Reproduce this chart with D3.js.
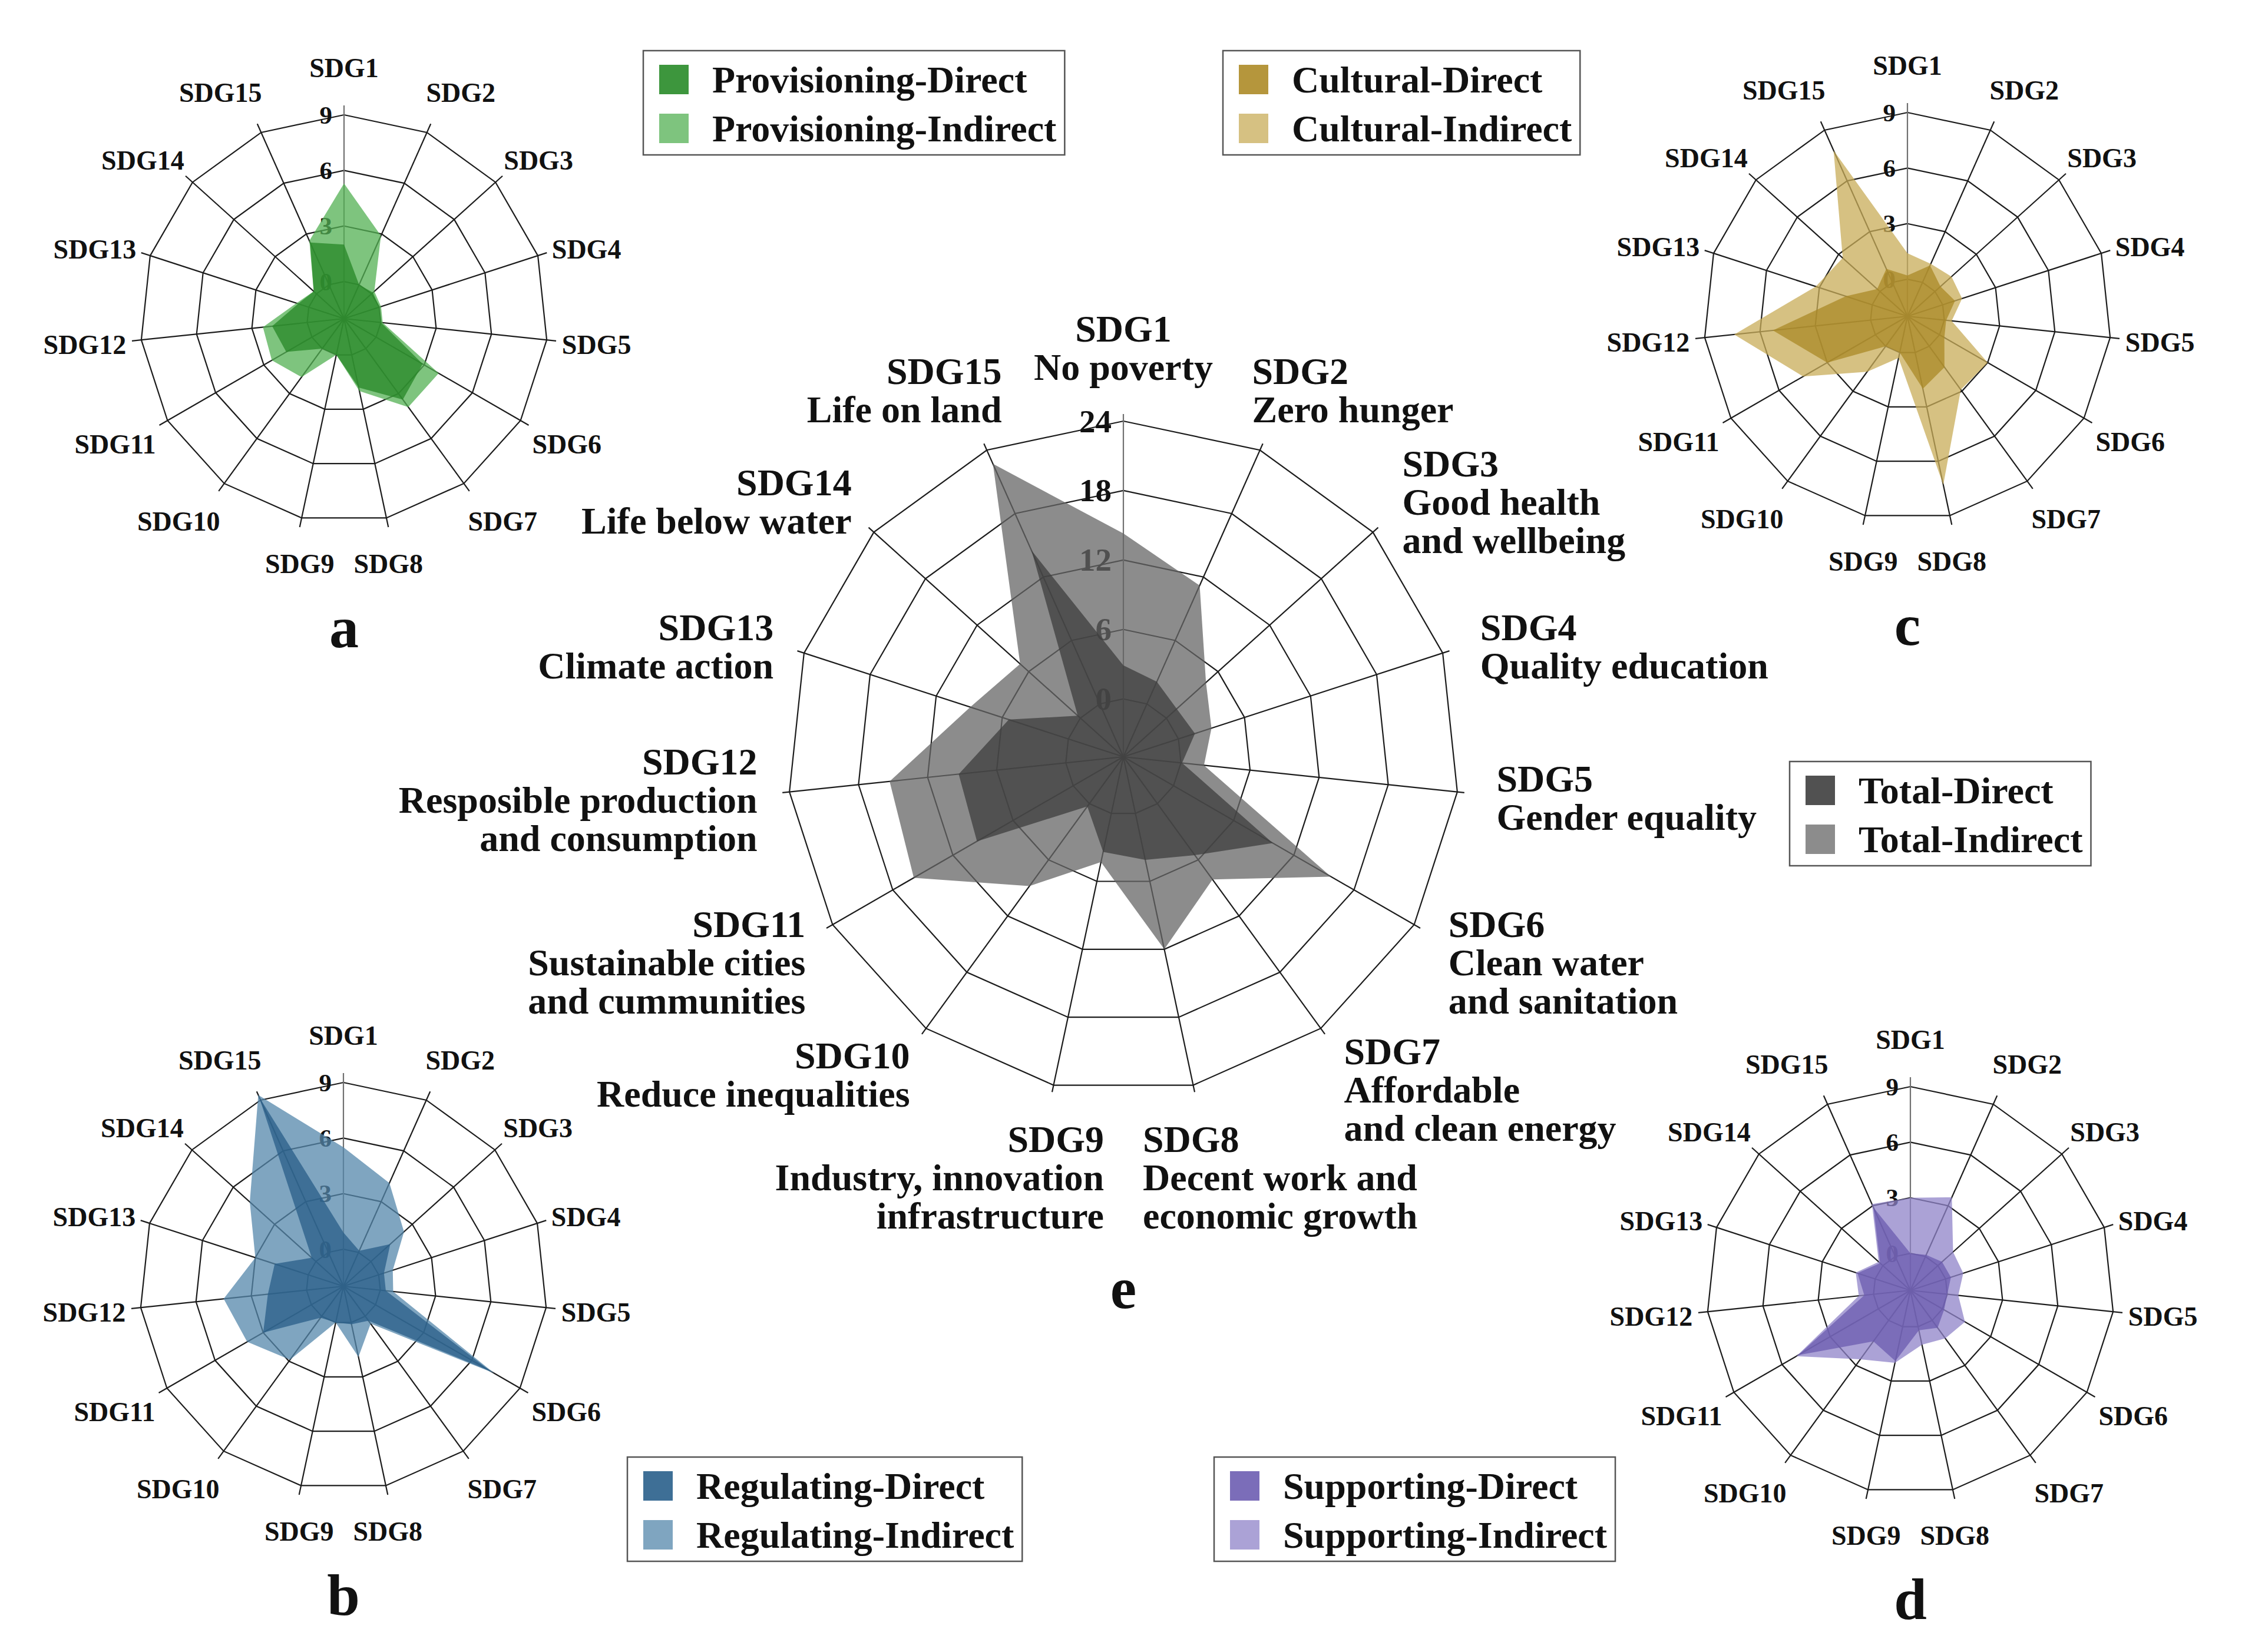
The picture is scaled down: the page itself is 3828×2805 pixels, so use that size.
<!DOCTYPE html>
<html>
<head>
<meta charset="utf-8">
<script src="https://cdn.jsdelivr.net/npm/d3@7"></script>
<style>
  body { margin: 0; background: #fff; }
  svg text { font-family: "Liberation Serif", "Times New Roman", serif; font-weight: bold; fill: #111; }
</style>
</head>
<body>
<div id="chart"></div>
<script>
// axis names
var sdgNames = ["SDG1","SDG2","SDG3","SDG4","SDG5","SDG6","SDG7","SDG8","SDG9","SDG10","SDG11","SDG12","SDG13","SDG14","SDG15"];
var sdgLong = [
  ["SDG1","No poverty"],
  ["SDG2","Zero hunger"],
  ["SDG3","Good health","and wellbeing"],
  ["SDG4","Quality education"],
  ["SDG5","Gender equality"],
  ["SDG6","Clean water","and sanitation"],
  ["SDG7","Affordable","and clean energy"],
  ["SDG8","Decent work and","economic growth"],
  ["SDG9","Industry, innovation","infrastructure"],
  ["SDG10","Reduce inequalities"],
  ["SDG11","Sustainable cities","and cummunities"],
  ["SDG12","Resposible production","and consumption"],
  ["SDG13","Climate action"],
  ["SDG14","Life below water"],
  ["SDG15","Life on land"]
];

// values per SDG1..SDG15
var provisioningDirect   = [2.0, 0.0, 0.1, 0.0, 0.0, 2.9, 3.4, 1.8, 0.0, 0.0, 1.6, 1.9, 0.6, 0.2, 2.5];
var provisioningIndirect = [5.3, 2.9, 0.2, 0.1, 0.1, 3.9, 3.9, 2.0, 0.0, 1.9, 2.5, 2.4, 0.7, 0.2, 2.6];
var regulatingDirect     = [0.9, 0.1, 1.4, 0.3, 0.3, 7.2, 0.3, 0.1, 0.0, 0.1, 3.0, 2.1, 1.9, 0.3, 9.2];
var regulatingIndirect   = [5.5, 4.1, 2.4, 0.8, 0.7, 7.4, 0.5, 1.9, 0.0, 2.9, 4.0, 4.5, 3.0, 4.8, 9.3];
var culturalDirect       = [0.2, 1.0, 0.4, 0.7, 0.1, 0.3, 1.4, 2.0, 0.0, 0.0, 3.0, 5.3, 1.5, 0.2, 0.8];
var culturalIndirect     = [1.4, 1.1, 1.2, 1.1, 0.4, 3.0, 2.9, 7.3, 0.3, 1.7, 4.5, 7.4, 3.2, 2.7, 7.8];
var supportingDirect     = [0.0, 0.1, 0.3, 0.3, 0.0, 0.1, 0.5, 0.2, 1.9, 1.4, 5.0, 0.5, 1.0, 0.2, 2.9];
var supportingIndirect   = [3.0, 3.5, 1.1, 1.0, 0.6, 1.4, 1.2, 1.0, 2.0, 2.6, 5.1, 0.8, 1.1, 0.3, 3.1];
var totalDirect          = [2.9, 2.1, 1.2, 1.5, 0.1, 9.9, 5.5, 4.1, 3.4, 0.3, 9.6, 9.3, 5.4, 0.3, 14.5];
var totalIndirect        = [14.3, 11.2, 4.6, 3.0, 2.0, 15.7, 8.1, 12.0, 4.3, 8.8, 15.9, 15.3, 8.9, 7.0, 22.7];

var smallTicks = [0, 3, 6, 9];
var totalTicks = [0, 6, 12, 18, 24];

var width = 3828, height = 2805;
var step = 2 * Math.PI / 15;
var fillAlpha = 0.75;

var svg = d3.select("#chart").append("svg")
    .attr("width", width)
    .attr("height", height);
svg.append("rect").attr("width", width).attr("height", height).attr("fill", "#fff");

// colour that gives `target` when laid with alpha a over `under`
function layerColour(target, under, a) {
  var t = d3.rgb(target), u = d3.rgb(under);
  function ch(tv, uv) { return Math.max(0, Math.min(255, (tv - uv * (1 - a)) / a)); }
  return d3.rgb(ch(t.r, u.r), ch(t.g, u.g), ch(t.b, u.b)).formatHex();
}

function drawRadar(o) {
  var g = svg.append("g").attr("transform", "translate(" + o.cx + "," + o.cy + ")");
  var r = d3.scaleLinear().domain(o.domain).range([0, o.R]);
  var n = o.labels.length;
  var radial = d3.lineRadial()
      .angle(function(d, i) { return i * step; })
      .radius(function(d) { return r(d); })
      .curve(d3.curveLinearClosed);

  // grid rings
  g.selectAll(".ring").data(o.ticks).enter().append("path")
      .attr("class", "ring")
      .attr("d", function(t) { return radial(d3.range(n).map(function() { return t; })); })
      .attr("fill", "none")
      .attr("stroke", "#1c1c1c")
      .attr("stroke-width", 2.2);

  // spokes
  var endR = o.R + o.ext;
  g.selectAll(".spoke").data(d3.range(n)).enter().append("line")
      .attr("class", "spoke")
      .attr("x1", 0).attr("y1", 0)
      .attr("x2", function(i) { return endR * Math.sin(i * step); })
      .attr("y2", function(i) { return -endR * Math.cos(i * step); })
      .attr("stroke", function(i) { return i === 0 ? "#707070" : "#1c1c1c"; })
      .attr("stroke-width", 2.2);

  // tick labels on SDG1 axis
  g.selectAll(".tick").data(o.ticks).enter().append("text")
      .attr("class", "tick")
      .attr("x", -o.tickGap)
      .attr("y", function(t) { return -r(t); })
      .attr("text-anchor", "end")
      .attr("dominant-baseline", "central")
      .style("font-size", o.tickSize + "px")
      .text(function(t) { return t; });

  // areas: indirect underneath, direct on top
  var fillI = layerColour(o.colI, "#ffffff", fillAlpha);
  var fillD = layerColour(o.colD, o.colI, fillAlpha);
  g.append("path").datum(o.indirect)
      .attr("d", radial)
      .attr("fill", fillI)
      .attr("fill-opacity", fillAlpha);
  g.append("path").datum(o.direct)
      .attr("d", radial)
      .attr("fill", fillD)
      .attr("fill-opacity", fillAlpha);

  // axis labels
  o.labels.forEach(function(lines, i) {
    if (typeof lines === "string") lines = [lines];
    var a = i * step, s = Math.sin(a), c = Math.cos(a);
    var ex = endR * s, ey = -endR * c;
    var H = lines.length * o.lineH;
    var Htop = Math.min(H, 2 * o.lineH);
    var bottomPair = o.big && Math.abs(s) < 0.3 && c < 0;
    var midY;
    if (c > 0) midY = ey - (Htop / 2) * Math.pow(c, o.topPow) - o.gapTop * Math.pow(c, o.topPow + 1);
    else midY = ey - c * (H / 2 + o.gapY) + (bottomPair ? o.bottomDrop : 0);
    var anchor, x;
    var lift = Math.max(0, c - 0.7) / 0.3 * o.topPull;
    if (Math.abs(s) < 0.15) { anchor = "middle"; x = ex; }
    else if (bottomPair) { anchor = s > 0 ? "start" : "end"; x = s > 0 ? o.bottomGap : -o.bottomGap; }
    else if (!o.big && Math.abs(s) < 0.3) { anchor = "middle"; x = ex; }
    else if (s > 0) { anchor = "start"; x = ex + o.gapX * s - o.gapX0 - lift; }
    else { anchor = "end"; x = ex - (o.gapX * -s - o.gapX0 - o.leftIn) + lift; }
    var t = g.append("text")
        .attr("text-anchor", anchor)
        .style("font-size", o.fontSize + "px");
    lines.forEach(function(line, k) {
      t.append("tspan")
          .attr("x", x)
          .attr("y", midY - H / 2 + o.lineH * (k + 0.5))
          .attr("dominant-baseline", "central")
          .text(line);
    });
  });

  // panel letter
  g.append("text")
      .attr("x", 0)
      .attr("y", o.letterY)
      .attr("text-anchor", "middle")
      .style("font-size", o.letterSize + "px")
      .text(o.letter);
}

function smallRadar(cx, cy, direct, indirect, colD, colI, letter) {
  drawRadar({
    cx: cx, cy: cy, R: 346, ext: 16, domain: [-2, 9], ticks: smallTicks,
    direct: direct, indirect: indirect, colD: colD, colI: colI,
    labels: sdgNames, fontSize: 46, lineH: 46, gapY: 41, gapTop: 41, topPow: 1.6,
    gapX: 30, gapX0: 20, leftIn: 0, topPull: 0,
    tickSize: 43, tickGap: 20, big: false,
    letter: letter, letterY: 558, letterSize: 100
  });
}

var col = {
  provD: "#3d963d", provI: "#7ec47e",
  cultD: "#b5963c", cultI: "#d6c182",
  reguD: "#3e6f96", reguI: "#7fa5c0",
  suppD: "#7b6db9", suppI: "#aba2d6",
  totD:  "#515151", totI:  "#8c8c8c"
};

smallRadar(584, 541, provisioningDirect, provisioningIndirect, col.provD, col.provI, "a");
smallRadar(583, 2184, regulatingDirect, regulatingIndirect, col.reguD, col.reguI, "b");
smallRadar(3238, 537, culturalDirect, culturalIndirect, col.cultD, col.cultI, "c");
smallRadar(3243, 2191, supportingDirect, supportingIndirect, col.suppD, col.suppI, "d");

drawRadar({
  cx: 1907, cy: 1285, R: 570, ext: 12, domain: [-5, 24], ticks: totalTicks,
  direct: totalDirect, indirect: totalIndirect, colD: col.totD, colI: col.totI,
  labels: sdgLong, fontSize: 64, lineH: 65, gapY: 20, gapTop: 47, topPow: 2,
  gapX: 55, gapX0: 0, leftIn: 12, topPull: 57, bottomGap: 33, bottomDrop: 30,
  tickSize: 55, tickGap: 20, big: true,
  letter: "e", letterY: 936, letterSize: 100
});

// legends
function legend(x, y, items) {
  var g = svg.append("g").attr("transform", "translate(" + x + "," + y + ")");
  var box = g.append("rect").attr("height", 177)
      .attr("fill", "#fff").attr("stroke", "#555").attr("stroke-width", 2.5);
  var maxW = 0;
  items.forEach(function(it, k) {
    var yy = 49 + k * 83;
    g.append("rect").attr("x", 27).attr("y", yy - 25).attr("width", 50).attr("height", 50)
        .attr("fill", it[1]);
    var t = g.append("text").attr("x", 117).attr("y", yy)
        .attr("dominant-baseline", "central")
        .style("font-size", "64px")
        .text(it[0]);
    maxW = Math.max(maxW, t.node().getComputedTextLength());
  });
  box.attr("width", 117 + maxW + 14);
}

legend(1092, 86, [["Provisioning-Direct", col.provD], ["Provisioning-Indirect", col.provI]]);
legend(2076, 86, [["Cultural-Direct", col.cultD], ["Cultural-Indirect", col.cultI]]);
legend(3038, 1293, [["Total-Direct", col.totD], ["Total-Indirect", col.totI]]);
legend(1065, 2474, [["Regulating-Direct", col.reguD], ["Regulating-Indirect", col.reguI]]);
legend(2061, 2474, [["Supporting-Direct", col.suppD], ["Supporting-Indirect", col.suppI]]);
</script>
</body>
</html>
